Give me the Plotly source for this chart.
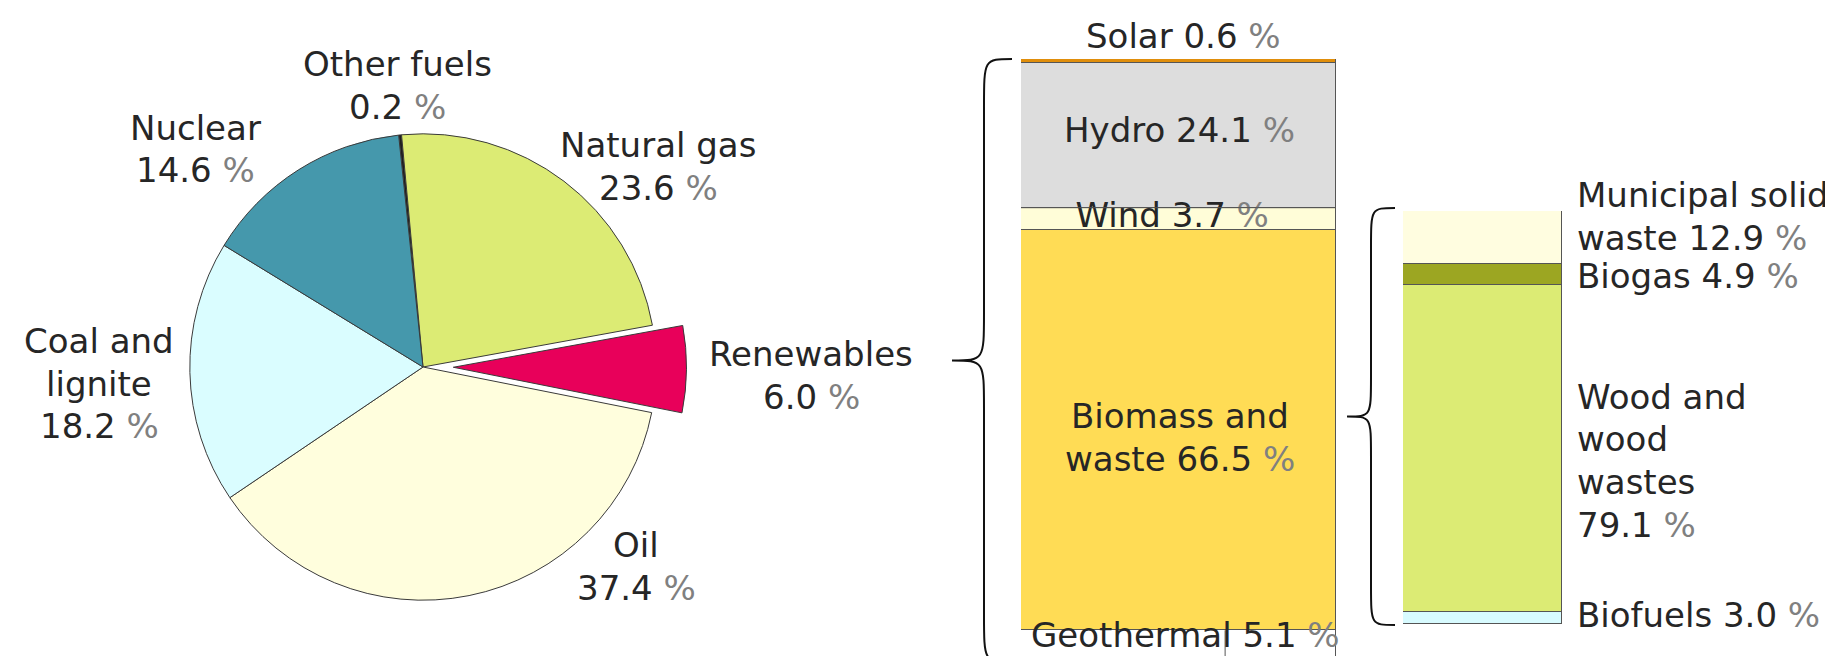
"""Primary energy mix with renewables and biomass breakdown."""

import plotly.graph_objects as go

W, H = 1833, 656
FONT = "Verdana, DejaVu Sans, sans-serif"
FONT_SIZE = 34
LINE_GAP = 42.5
TEXT_COLOR = "#262626"
EDGE = "#555555"
PCT = "<span style='color:#808080'>%</span>"

# Total energy mix (pie), clockwise from 12 o'clock
pie_labels = ["Other fuels", "Natural gas", "Renewables", "Oil", "Coal and lignite", "Nuclear"]
pie_values = [0.2, 23.6, 6.0, 37.4, 18.2, 14.6]
pie_colors = ["#1e1e1e", "#dceb74", "#e8005a", "#fffedd", "#dafdff", "#4598ac"]
pie_pull = [0, 0, 0.13, 0, 0, 0]

# Renewables breakdown, bottom to top
renew_labels = ["Geothermal", "Biomass and waste", "Wind", "Hydro", "Solar"]
renew_values = [5.1, 66.5, 3.7, 24.1, 0.6]
renew_colors = ["#ffffff", "#ffdc55", "#fffdd8", "#dddddd", "#e08e0b"]

# Biomass and waste breakdown, bottom to top
biomass_labels = ["Biofuels", "Wood and wood wastes", "Biogas", "Municipal solid waste"]
biomass_values = [3.0, 79.1, 4.9, 12.9]
biomass_colors = ["#d8fbff", "#dceb74", "#9ca622", "#fffde0"]

# how each label wraps; value goes on the last line ("" = value on its own line)
wraps = {
    "Other fuels": ["Other fuels", ""],
    "Natural gas": ["Natural gas", ""],
    "Renewables": ["Renewables", ""],
    "Oil": ["Oil", ""],
    "Coal and lignite": ["Coal and", "lignite", ""],
    "Nuclear": ["Nuclear", ""],
    "Geothermal": ["Geothermal"],
    "Biomass and waste": ["Biomass and", "waste"],
    "Wind": ["Wind"],
    "Hydro": ["Hydro"],
    "Solar": ["Solar"],
    "Biofuels": ["Biofuels"],
    "Wood and wood wastes": ["Wood and", "wood", "wastes", ""],
    "Biogas": ["Biogas"],
    "Municipal solid waste": ["Municipal solid", "waste"],
}

# label anchor: x px, y px of first line, x anchor
label_pos = {
    "Other fuels": (389, 56, "center"),
    "Natural gas": (650, 137, "center"),
    "Renewables": (803, 346, "center"),
    "Oil": (628, 537, "center"),
    "Coal and lignite": (91, 333, "center"),
    "Nuclear": (187, 120, "center"),
    "Solar": (1175, 28, "center"),
    "Hydro": (1171, 122, "center"),
    "Biomass and waste": (1172, 408, "center"),
    "Geothermal": (1177, 627, "center"),
    "Municipal solid waste": (1567, 187, "left"),
    "Biogas": (1567, 268, "left"),
    "Wood and wood wastes": (1567, 389, "left"),
    "Biofuels": (1567, 607, "left"),
}


def px_x(x):
    return x / W


def px_y(y):
    return 1 - y / H


def label_lines(name, value):
    lines = list(wraps[name])
    val = f"{value:.1f} {PCT}"
    lines[-1] = f"{lines[-1]} {val}".strip()
    return lines


def brace_path(x_end, y_top, y_bot, x_line, x_tip, r):
    """Left-pointing curly brace, pixel coords -> paper path."""
    ym = (y_top + y_bot) / 2
    pts = [
        ("M", [(x_end, y_top)]),
        ("C", [(x_line, y_top), (x_line, y_top), (x_line, y_top + r)]),
        ("L", [(x_line, ym - r)]),
        ("C", [(x_line, ym), (x_line, ym), (x_tip, ym)]),
        ("C", [(x_line, ym), (x_line, ym), (x_line, ym + r)]),
        ("L", [(x_line, y_bot - r)]),
        ("C", [(x_line, y_bot), (x_line, y_bot), (x_end, y_bot)]),
    ]
    parts = []
    for cmd, coords in pts:
        parts.append(cmd + " ".join(f"{px_x(x):.5f},{px_y(y):.5f}" for x, y in coords))
    return " ".join(parts)


fig = go.Figure()

fig.add_trace(go.Pie(
    labels=pie_labels,
    values=pie_values,
    sort=False,
    direction="clockwise",
    rotation=-6,
    pull=pie_pull,
    marker={"colors": pie_colors, "line": {"color": "#3a3a3a", "width": 1}},
    textinfo="none",
    hoverinfo="label+percent",
    domain={"x": [px_x(151.5), px_x(678.5)], "y": [px_y(622.5), px_y(95.5)]},
))

for name, val, col in zip(renew_labels, renew_values, renew_colors):
    fig.add_trace(go.Bar(
        x=[0], y=[val], name=name, width=1,
        marker={"color": col, "line": {"color": EDGE, "width": 1}},
        xaxis="x", yaxis="y",
    ))

for name, val, col in zip(biomass_labels, biomass_values, biomass_colors):
    fig.add_trace(go.Bar(
        x=[0], y=[val], name=name, width=1,
        marker={"color": col, "line": {"color": EDGE, "width": 1}},
        xaxis="x2", yaxis="y2",
    ))

# the wind label sits under the bar outline in the original, so draw it in the plot layer
cum = 0
wind_mid = None
hydro_base = None
for name, val in zip(renew_labels, renew_values):
    if name == "Wind":
        wind_mid = cum + val / 2
    if name == "Hydro":
        hydro_base = cum
    cum += val
wind_val = renew_values[renew_labels.index("Wind")]
fig.add_trace(go.Scatter(
    x=[-0.02], y=[wind_mid], mode="text",
    text=[label_lines("Wind", wind_val)[0]],
    textposition="middle center",
    textfont={"family": FONT, "size": FONT_SIZE, "color": TEXT_COLOR},
    cliponaxis=False, hoverinfo="skip",
    xaxis="x", yaxis="y",
))

annotations = []
all_names = pie_labels + renew_labels + biomass_labels
all_values = pie_values + renew_values + biomass_values
for name, val in zip(all_names, all_values):
    if name not in label_pos:
        continue
    x, y0, anchor = label_pos[name]
    for i, line in enumerate(label_lines(name, val)):
        annotations.append(dict(
            text=line, x=px_x(x), y=px_y(y0 + i * LINE_GAP),
            xref="paper", yref="paper", xanchor=anchor, yanchor="middle",
            showarrow=False, align=anchor,
        ))

geo_val = renew_values[renew_labels.index("Geothermal")]
shapes = [
    # outline over the wind label
    dict(type="line", xref="x", yref="y", x0=-0.5, x1=0.5, y0=hydro_base, y1=hydro_base,
         layer="above", line={"color": EDGE, "width": 1}),
    # divider inside the geothermal cell
    dict(type="line", xref="x", yref="y", x0=0.148, x1=0.148, y0=0, y1=geo_val,
         layer="above", line={"color": EDGE, "width": 1}),
    dict(type="path", xref="paper", yref="paper",
         path=brace_path(1004, 51, 654, 976, 944, 48),
         line={"color": "#111111", "width": 2}),
    dict(type="path", xref="paper", yref="paper",
         path=brace_path(1387, 200, 617, 1363, 1339, 40),
         line={"color": "#111111", "width": 2}),
]

fig.update_layout(
    width=W, height=H,
    margin={"l": 0, "r": 0, "t": 0, "b": 0},
    paper_bgcolor="white",
    plot_bgcolor="rgba(0,0,0,0)",
    showlegend=False,
    barmode="stack",
    bargap=0,
    font={"family": FONT, "size": FONT_SIZE, "color": TEXT_COLOR},
    xaxis={"domain": [px_x(1013), px_x(1328)], "range": [-0.5, 0.5], "visible": False, "fixedrange": True},
    yaxis={"domain": [px_y(653), px_y(51)], "range": [0, sum(renew_values)], "visible": False, "fixedrange": True},
    xaxis2={"domain": [px_x(1395), px_x(1554)], "range": [-0.5, 0.5], "visible": False, "anchor": "y2"},
    yaxis2={"domain": [px_y(616), px_y(203)], "range": [0, sum(biomass_values)], "visible": False, "anchor": "x2"},
    annotations=annotations,
    shapes=shapes,
)

fig.write_html("out.html")
